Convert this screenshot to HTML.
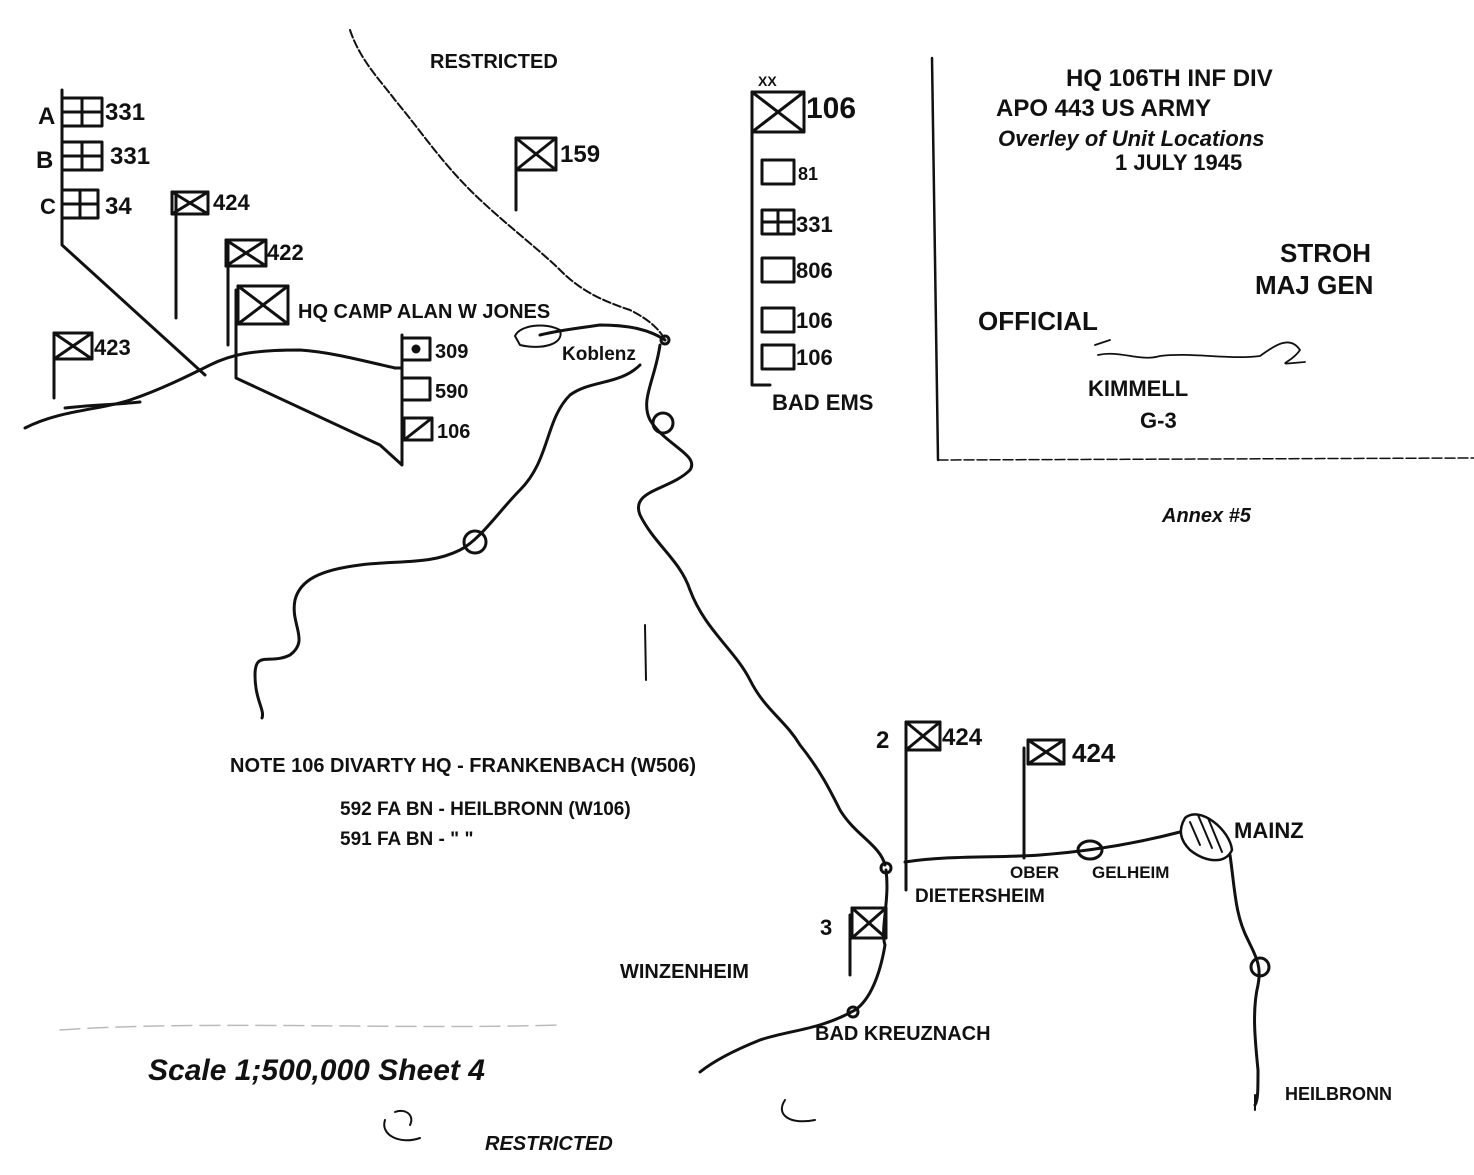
<!DOCTYPE html>
<html><head><meta charset="utf-8"><style>
html,body{margin:0;padding:0;background:#fff}
svg{display:block}
text{font-family:"Liberation Sans",sans-serif;font-weight:bold;fill:#111}
</style></head><body>
<svg width="1474" height="1175" viewBox="0 0 1474 1175" xmlns="http://www.w3.org/2000/svg">
<rect width="1474" height="1175" fill="#fff"/>
<g fill="none" stroke="#111" stroke-width="3" stroke-linecap="round" stroke-linejoin="round">
<path d="M350 30 C360 60 380 80 395 100 C420 130 440 160 470 190 C500 220 540 250 560 270 C580 290 600 300 630 310 C650 320 660 330 665 340" stroke-width="2" stroke-dasharray="8 3"/>
<path d="M25 428 C60 410 100 410 130 400 C160 390 190 375 210 365 C230 355 250 350 300 350 C330 352 360 360 395 368"/>
<path d="M65 408 C90 405 110 405 140 402"/>
<path d="M540 335 C560 330 580 328 600 325 C630 325 650 330 665 340"/>
<circle cx="665" cy="340" r="4"/>
<path d="M640 365 C620 385 590 380 570 395 C545 420 550 460 520 490 C500 510 480 540 460 550 C430 565 400 560 360 565 C320 570 300 580 295 600 C290 625 310 640 290 655 C270 665 255 650 255 675 C255 700 265 710 262 718"/>
<path d="M660 345 C655 380 640 400 650 420 C665 445 700 455 690 470 C670 490 630 490 640 515 C655 545 680 560 690 590 C705 630 735 650 750 680 C765 710 785 720 800 745 C820 770 830 790 840 810 C855 835 880 845 885 865"/>
<circle cx="663" cy="423" r="10"/>
<circle cx="475" cy="542" r="11"/>
<path d="M886 870 C890 900 880 930 885 945 C880 975 870 1000 855 1010 C820 1030 790 1030 760 1040 C735 1050 715 1060 700 1072"/>
<circle cx="886" cy="868" r="5"/>
<circle cx="853" cy="1012" r="5"/>
<path d="M905 862 C950 855 1000 858 1040 855 C1080 852 1130 845 1180 832"/>
<ellipse cx="1090" cy="850" rx="12" ry="9"/>
<path d="M1185 818 C1200 805 1230 830 1232 850 C1225 865 1205 862 1190 850 C1180 840 1178 830 1185 818 Z" stroke-width="2.5"/>
<path d="M1190 822 L1200 845 M1198 815 L1212 848 M1208 818 L1222 852" stroke-width="2"/>
<path d="M1230 855 C1235 890 1235 915 1248 940 C1255 955 1262 965 1258 985 C1252 1010 1255 1040 1258 1070 C1258 1090 1258 1100 1255 1105"/>
<circle cx="1260" cy="967" r="9"/>
<path d="M62 90 L62 245 L205 375"/>
<rect x="62" y="98" width="40" height="28"/><path d="M62 112 L102 112 M82 98 L82 126"/>
<rect x="62" y="142" width="40" height="28"/><path d="M62 156 L102 156 M82 142 L82 170"/>
<rect x="62" y="190" width="36" height="28"/><path d="M62 204 L98 204 M80 190 L80 218"/>
<rect x="172" y="192" width="36" height="22"/><path d="M172 192 L208 214 M208 192 L172 214"/>
<path d="M176 194 L176 318"/>
<rect x="226" y="240" width="40" height="26"/><path d="M226 240 L266 266 M266 240 L226 266"/>
<path d="M228 244 L228 345"/>
<rect x="238" y="286" width="50" height="38"/><path d="M238 286 L288 324 M288 286 L238 324"/>
<path d="M236 290 L236 378 L380 445 L402 465 L402 335"/>
<rect x="54" y="333" width="38" height="26"/><path d="M54 333 L92 359 M92 333 L54 359"/>
<path d="M54 340 L54 398"/>
<rect x="402" y="338" width="28" height="22"/><circle cx="416" cy="349" r="3" fill="#111"/>
<rect x="402" y="378" width="28" height="22"/>
<rect x="404" y="418" width="28" height="22"/><path d="M404 440 L432 418"/>
<path d="M395 368 L402 368"/>
<rect x="516" y="138" width="40" height="32"/><path d="M516 138 L556 170 M556 138 L516 170"/>
<path d="M516 145 L516 210"/>
<rect x="752" y="92" width="52" height="40"/><path d="M752 92 L804 132 M804 92 L752 132"/>
<path d="M752 100 L752 385 L770 385"/>
<rect x="762" y="160" width="32" height="24"/>
<rect x="762" y="210" width="32" height="24"/><path d="M762 222 L794 222 M778 210 L778 234"/>
<rect x="762" y="258" width="32" height="24"/>
<rect x="762" y="308" width="32" height="24"/>
<rect x="762" y="345" width="32" height="24"/>
<rect x="906" y="722" width="34" height="28"/><path d="M906 722 L940 750 M940 722 L906 750"/>
<path d="M906 730 L906 890"/>
<rect x="1028" y="740" width="36" height="24"/><path d="M1028 740 L1064 764 M1064 740 L1028 764"/>
<path d="M1024 748 L1024 858"/>
<rect x="852" y="908" width="34" height="30"/><path d="M852 908 L886 938 M886 908 L852 938"/>
<path d="M850 915 L850 975"/>
<path d="M645 625 L646 680" stroke-width="2"/>
<path d="M932 58 L938 460" stroke-width="2.5"/>
<path d="M938 460 L1474 458" stroke-width="1.5" stroke-dasharray="10 3"/>
<path d="M1095 345 L1110 340 M1098 355 C1120 350 1140 362 1160 356 C1190 352 1230 360 1260 356 C1275 345 1290 335 1300 350 C1290 365 1270 365 1305 362" stroke-width="1.8"/>
<path d="M1255 1095 L1255 1110" stroke-width="2"/>
<path d="M515 336 C520 325 545 322 560 330 C565 345 540 350 520 345 Z" stroke-width="2"/>
<path d="M385 1120 C380 1135 400 1145 420 1138 M395 1112 C405 1108 415 1115 410 1125" stroke-width="2"/>
<path d="M785 1100 C775 1115 790 1125 815 1120" stroke-width="2"/>
<path d="M60 1030 C200 1020 400 1030 560 1025" stroke="#bbb" stroke-width="1.5" stroke-dasharray="20 8"/>
</g>
<g font-size="20">
<text x="430" y="68" font-size="20">RESTRICTED</text>
<text x="38" y="124" font-size="24">A</text><text x="105" y="120" font-size="24">331</text>
<text x="36" y="168" font-size="24">B</text><text x="110" y="164" font-size="24">331</text>
<text x="40" y="214" font-size="22">C</text><text x="105" y="214" font-size="24">34</text>
<text x="213" y="210" font-size="22">424</text>
<text x="267" y="260" font-size="22">422</text>
<text x="298" y="318" font-size="20">HQ  CAMP ALAN W JONES</text>
<text x="94" y="355" font-size="22">423</text>
<text x="435" y="358" font-size="20">309</text>
<text x="435" y="398" font-size="20">590</text>
<text x="437" y="438" font-size="20">106</text>
<text x="562" y="360" font-size="19">Koblenz</text>
<text x="560" y="162" font-size="24" font-weight="normal">159</text>
<text x="806" y="118" font-size="30" font-weight="normal">106</text>
<text x="758" y="86" font-size="14">XX</text>
<text x="798" y="180" font-size="18">81</text>
<text x="796" y="232" font-size="22">331</text>
<text x="796" y="278" font-size="22">806</text>
<text x="796" y="328" font-size="22">106</text>
<text x="796" y="365" font-size="22">106</text>
<text x="772" y="410" font-size="22">BAD  EMS</text>
<text x="1066" y="86" font-size="24" font-weight="normal">HQ  106TH  INF  DIV</text>
<text x="996" y="116" font-size="24" font-weight="normal">APO 443     US  ARMY</text>
<text x="998" y="146" font-size="22" font-style="italic">Overley of Unit Locations</text>
<text x="1115" y="170" font-size="22">1 JULY 1945</text>
<text x="1280" y="262" font-size="26" font-weight="normal">STROH</text>
<text x="1255" y="294" font-size="26">MAJ    GEN</text>
<text x="978" y="330" font-size="26" font-weight="normal" fill="#555">OFFICIAL</text>
<text x="1088" y="396" font-size="22" font-weight="normal" fill="#444">KIMMELL</text>
<text x="1140" y="428" font-size="22" font-weight="normal" fill="#444">G-3</text>
<text x="1162" y="522" font-size="20" font-style="italic">Annex #5</text>
<text x="230" y="772" font-size="20" font-weight="normal">NOTE  106 DIVARTY  HQ - FRANKENBACH (W506)</text>
<text x="340" y="815" font-size="19" font-weight="normal">592 FA BN - HEILBRONN (W106)</text>
<text x="340" y="845" font-size="19" font-weight="normal">591 FA BN -          "                  "</text>
<text x="876" y="748" font-size="24">2</text>
<text x="942" y="745" font-size="24">424</text>
<text x="1072" y="762" font-size="26">424</text>
<text x="1234" y="838" font-size="22">MAINZ</text>
<text x="1010" y="878" font-size="17">OBER</text>
<text x="1092" y="878" font-size="17">GELHEIM</text>
<text x="915" y="902" font-size="19">DIETERSHEIM</text>
<text x="820" y="935" font-size="22">3</text>
<text x="620" y="978" font-size="20">WINZENHEIM</text>
<text x="815" y="1040" font-size="20">BAD KREUZNACH</text>
<text x="1285" y="1100" font-size="18">HEILBRONN</text>
<text x="148" y="1080" font-size="30" font-style="italic" font-weight="normal">Scale 1;500,000  Sheet 4</text>
<text x="485" y="1150" font-size="20" font-style="italic">RESTRICTED</text>
</g>
</svg>
</body></html>
